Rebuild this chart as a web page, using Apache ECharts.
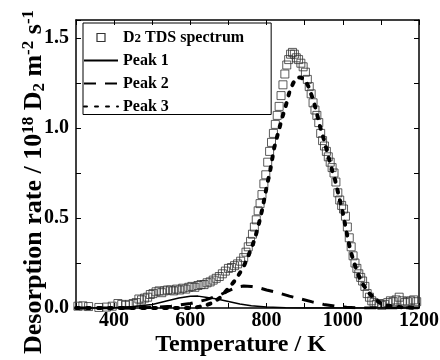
<!DOCTYPE html>
<html>
<head>
<meta charset="utf-8">
<script src="https://cdn.jsdelivr.net/npm/echarts@6/dist/echarts.min.js"></script>
<style>
html,body{margin:0;padding:0;background:#fff;}
#chart{width:440px;height:360px;}
</style>
</head>
<body>
<div id="chart"></div>
<script>
// Temperature (K) and desorption rate (10^18 D2 m^-2 s^-1)
var spectrumT = [305,318,333,360,380,395,410,420,430,440,450,458,465,472,480,488,495,502,510,518,525,532,540,548,556,564,572,580,588,596,604,612,620,628,636,644,652,660,668,676,684,692,700,708,716,724,732,740,746,752,758,763,768,773,778,783,788,793,798,803,808,813,818,823,828,833,838,843,848,853,858,863,868,873,878,884,890,896,902,907,912,917,922,927,932,937,942,947,952,957,962,967,972,977,982,987,992,997,1002,1007,1012,1017,1022,1027,1032,1037,1042,1047,1052,1058,1064,1070,1076,1082,1088,1095,1102,1110,1118,1125,1132,1140,1148,1156,1163,1170,1178,1186,1194];
var spectrumV = [0.01,0.012,0.008,0.003,0.005,0.01,0.025,0.02,0.015,0.02,0.025,0.03,0.05,0.045,0.055,0.06,0.075,0.08,0.09,0.095,0.085,0.095,0.10,0.10,0.095,0.105,0.10,0.11,0.105,0.115,0.12,0.115,0.125,0.13,0.13,0.14,0.145,0.155,0.165,0.175,0.19,0.205,0.22,0.225,0.235,0.245,0.26,0.28,0.31,0.34,0.37,0.41,0.45,0.49,0.54,0.58,0.63,0.69,0.74,0.81,0.87,0.92,0.97,1.02,1.07,1.12,1.18,1.24,1.30,1.35,1.38,1.41,1.42,1.41,1.39,1.38,1.36,1.34,1.31,1.27,1.23,1.19,1.14,1.10,1.07,1.03,0.97,0.93,0.90,0.87,0.84,0.81,0.78,0.75,0.70,0.64,0.60,0.57,0.55,0.51,0.45,0.39,0.34,0.29,0.25,0.22,0.19,0.17,0.15,0.12,0.08,0.06,0.04,0.03,0.02,0.025,0.015,0.02,0.03,0.04,0.035,0.045,0.06,0.04,0.03,0.035,0.04,0.045,0.035];

var peak1T = [300,350,400,450,500,540,570,600,620,640,670,700,730,760,800,850,900,1000,1100,1200];
var peak1V = [0,0,0.002,0.008,0.02,0.04,0.055,0.065,0.066,0.06,0.05,0.036,0.022,0.012,0.005,0.001,0,0,0,0];

var peak2T = [300,400,450,500,550,600,640,680,700,720,740,760,780,800,830,860,890,920,950,980,1010,1050,1100,1200];
var peak2V = [0,0,0,0.003,0.01,0.025,0.045,0.075,0.095,0.115,0.122,0.12,0.112,0.10,0.085,0.066,0.05,0.034,0.02,0.01,0.004,0,0,0];

var peak3T = [300,400,500,600,620,640,660,680,700,720,740,760,770,780,790,800,810,820,830,840,850,860,870,880,890,900,910,920,930,940,950,960,970,980,990,1000,1010,1020,1030,1040,1050,1060,1070,1080,1090,1100,1120,1150,1200];
var peak3V = [0,0,0,0,0.005,0.015,0.03,0.06,0.11,0.16,0.23,0.33,0.39,0.47,0.56,0.67,0.77,0.89,0.97,1.05,1.12,1.20,1.25,1.28,1.28,1.27,1.23,1.17,1.10,1.01,0.94,0.86,0.78,0.71,0.62,0.53,0.42,0.32,0.25,0.19,0.14,0.11,0.08,0.06,0.04,0.025,0.012,0.005,0];

var seriesNames = ['D2 TDS spectrum','Peak 1','Peak 2','Peak 3'];
var xTickValues = [400,600,800,1000,1200];
var yTickValues = [0.0,0.5,1.0,1.5];

function pairs(t, v){ return t.map(function(x,i){ return [x, v[i]]; }); }

var FONT = '"Liberation Serif","Times New Roman",serif';
var chart = echarts.init(document.getElementById('chart'), null, {renderer:'canvas'});

var axisLine = {show:true, onZero:false, lineStyle:{color:'#000', width:1.5}};
var axisTick = {show:true, inside:true, length:5, lineStyle:{color:'#000', width:1}};

var option = {
  backgroundColor:'#fff',
  animation:false,
  grid:{left:76, top:20, right:21, bottom:52, containLabel:false, outerBoundsMode:'none'},
  legend:{
    left:83, top:23, orient:'vertical',
    itemWidth:34, itemHeight:14, itemGap:7,
    padding:[0,27,0,0],
    borderColor:'#000', borderWidth:1,
    symbolKeepAspect:true,
    textStyle:{fontFamily:FONT, fontWeight:'bold', fontSize:16, color:'#000', lineHeight:15,
      rich:{
        sub:{fontFamily:FONT, fontWeight:'bold', fontSize:13, color:'#000', verticalAlign:'bottom', lineHeight:13, padding:[9,0,0,0]}
      }
    },
    formatter:function(name){
      if(name===seriesNames[0]) return 'D{sub|2} TDS spectrum';
      return name;
    },
    data:[
      {name:seriesNames[0], icon:'path://M0,0 M14,14 M3,3 L11,3 L11,11 L3,11 Z',
        itemStyle:{color:'rgba(255,255,255,0)', borderColor:'#000', borderWidth:1.2}},
      {name:seriesNames[1], itemStyle:{opacity:0}},
      {name:seriesNames[2], itemStyle:{opacity:0}},
      {name:seriesNames[3], itemStyle:{opacity:0}}
    ]
  },
  xAxis:[{
    type:'value', min:300, max:1200, interval:100, position:'bottom',
    axisLine:axisLine, axisTick:axisTick, splitLine:{show:false},
    axisLabel:{margin:3, fontFamily:FONT, fontWeight:'bold', fontSize:20, color:'#000',
      formatter:function(v){ return xTickValues.indexOf(v)>=0 ? String(v) : ''; }},
    name:'Temperature / K', nameLocation:'middle', nameGap:25, nameMoveOverlap:false,
    nameTextStyle:{fontFamily:FONT, fontWeight:'bold', fontSize:24, color:'#000', padding:[0,14,0,0]}
  },{
    type:'value', min:300, max:1200, interval:100, position:'top',
    axisLine:axisLine, axisTick:axisTick, splitLine:{show:false},
    axisLabel:{show:false}
  }],
  yAxis:[{
    type:'value', min:0, max:1.6, interval:0.25, position:'left',
    axisLine:axisLine, axisTick:axisTick, splitLine:{show:false},
    axisLabel:{margin:7, fontFamily:FONT, fontWeight:'bold', fontSize:20, color:'#000',
      formatter:function(v){
        for(var i=0;i<yTickValues.length;i++){ if(Math.abs(v-yTickValues[i])<1e-6) return yTickValues[i].toFixed(1); }
        return '';
      }},
    name:'Desorption rate / 10{sup|18} D{sub|2} m{sup|-2} s{sup|-1}',
    nameLocation:'middle', nameGap:28, nameRotate:90, nameMoveOverlap:false,
    nameTextStyle:{fontFamily:FONT, fontWeight:'bold', fontSize:26, color:'#000', lineHeight:28,
      padding:[0,36,0,0],
      rich:{
        sup:{fontFamily:FONT, fontWeight:'bold', fontSize:17, color:'#000', verticalAlign:'top', lineHeight:16},
        sub:{fontFamily:FONT, fontWeight:'bold', fontSize:17, color:'#000', verticalAlign:'bottom', lineHeight:16}
      }}
  },{
    type:'value', min:0, max:1.6, interval:0.25, position:'right',
    axisLine:axisLine, axisTick:axisTick, splitLine:{show:false},
    axisLabel:{show:false}
  }],
  series:[{
    name:seriesNames[0], type:'scatter', xAxisIndex:0, yAxisIndex:0,
    symbol:'rect', symbolSize:8,
    itemStyle:{color:'rgba(255,255,255,0)', borderColor:'#333', borderWidth:1},
    data:pairs(spectrumT, spectrumV), z:3
  },{
    name:seriesNames[1], type:'line', symbol:'none', showSymbol:false,
    lineStyle:{color:'#000', width:1.5, type:'solid'},
    itemStyle:{color:'#000'},
    data:pairs(peak1T, peak1V), z:4
  },{
    name:seriesNames[2], type:'line', symbol:'none', showSymbol:false,
    lineStyle:{color:'#000', width:3, type:[12,9]},
    itemStyle:{color:'#000'},
    data:pairs(peak2T, peak2V), z:4
  },{
    name:seriesNames[3], type:'line', symbol:'none', showSymbol:false,
    lineStyle:{color:'#000', width:4, type:[3,8], cap:'round'},
    itemStyle:{color:'#000'},
    data:pairs(peak3T, peak3V), z:4
  }]
};
chart.setOption(option);
</script>
</body>
</html>
